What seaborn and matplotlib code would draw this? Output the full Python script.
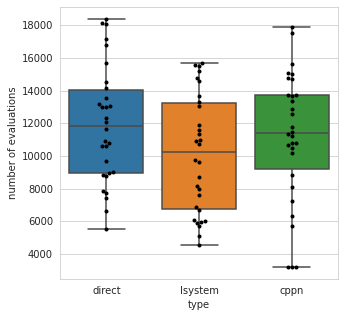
import pandas as pd
import seaborn as sns
import matplotlib.pyplot as plt

types = ["direct", "lsystem", "cppn"]

direct = [18368, 18141, 18104, 17185, 16817, 15670, 14524, 14181, 13544, 13160,
          13050, 13030, 12990, 12300, 12060, 11640, 10910, 10790, 10640, 10600,
          9700, 9040, 8960, 8860, 8760, 7860, 7720, 7450, 6650, 5500]
lsystem = [15671, 15548, 15487, 15199, 14794, 14586, 13648, 13298, 13053, 11913,
           11563, 11318, 10950, 10889, 10705, 9724, 9620, 8744, 8192, 7990,
           7622, 6862, 6720, 6100, 6030, 5960, 5900, 5700, 5108, 4575]
cppn = [17920, 17510, 15609, 15100, 15039, 14770, 14690, 13709, 13709, 13648,
        13341, 12869, 12544, 11766, 11480, 11340, 11214, 10785, 10785, 10644,
        10490, 10197, 8866, 8088, 7229, 6335, 5697, 3227, 3227, 3227]

df = pd.DataFrame({
    "type": ["direct"] * len(direct) + ["lsystem"] * len(lsystem) + ["cppn"] * len(cppn),
    "evaluations": direct + lsystem + cppn,
})

sns.set_style("whitegrid")
fig = plt.figure(figsize=(345 / 72, 317 / 72), dpi=72)
ax = fig.add_axes([0.174, 0.12, 0.806, 0.858])
# old-style seaborn look: thicker dark grey outlines
sns.boxplot(data=df, x="type", y="evaluations", hue="type", order=types,
            legend=False, ax=ax, fliersize=0, linewidth=1.5, linecolor="#4a4a4a")
sns.swarmplot(data=df, x="type", y="evaluations", order=types, color="black",
              size=4, ax=ax)
ax.set_xlabel("type")
ax.set_ylabel("number of evaluations")
fig.savefig("out.png", dpi=72)
